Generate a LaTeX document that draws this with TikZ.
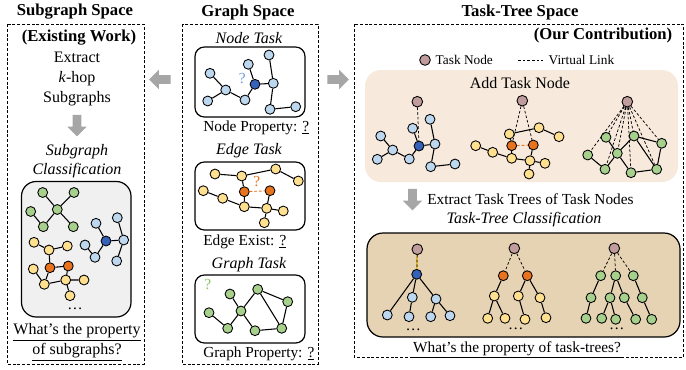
\documentclass[tikz,border=0pt]{standalone}
\usepackage{fontspec}
\setmainfont{Liberation Serif}
\usetikzlibrary{shapes.arrows}
\definecolor{nodeblue}{HTML}{BDD7EE}
\definecolor{deepblue}{HTML}{3562B8}
\definecolor{nodeyellow}{HTML}{FFE08F}
\definecolor{nodeorange}{HTML}{E8731F}
\definecolor{nodegreen}{HTML}{A8D08D}
\definecolor{nodetask}{HTML}{C09C9C}
\definecolor{peach}{HTML}{F7E9DC}
\definecolor{tan}{HTML}{E6D3B3}
\definecolor{arrowgray}{HTML}{A6A6A6}
\definecolor{linkgold}{HTML}{E2B000}
\definecolor{qgreen}{HTML}{8CC46C}
\definecolor{qblue}{HTML}{729FE0}
\begin{document}
\begin{tikzpicture}[x=0.75pt, y=-0.75pt,
    font=\fontsize{12}{15}\selectfont,
    panel/.style={draw, line width=0.6pt, dash pattern=on 2.2pt off 1.4pt},
    taskbox/.style={draw, line width=0.9pt, rounded corners=7pt, fill=white},
    vx/.style={circle, draw, line width=0.65pt, minimum size=7.4pt, inner sep=0pt},
    bn/.style={vx, fill=nodeblue}, dn/.style={vx, fill=deepblue},
    yn/.style={vx, fill=nodeyellow}, rn/.style={vx, fill=nodeorange},
    gn/.style={vx, fill=nodegreen}, tn/.style={vx, fill=nodetask, minimum size=8pt},
    edge/.style={line width=0.8pt},
    vlink/.style={line width=0.55pt, dash pattern=on 2pt off 1.5pt},
    garrow/.style={single arrow, fill=arrowgray, inner sep=3pt, minimum width=1pt,
      single arrow head extend=4pt, single arrow head indent=0pt, minimum height=16pt},
    hd/.style={font=\bfseries\fontsize{12.5}{15}\selectfont},
    it/.style={font=\itshape\fontsize{12}{14.5}\selectfont},
    sm/.style={font=\fontsize{11.5}{14}\selectfont}]
  \useasboundingbox (0,0) rectangle (686,369);
  % panels
  \draw[panel] (7,24) rectangle (144,364);
  \draw[panel] (182,24) rectangle (318,364);
  \draw[panel] (354,24) rectangle (683,357);
  \node[hd] (tsub) at (75,12) {Subgraph Space};
  \node[hd] (tgraph) at (248,12) {Graph Space};
  \node[hd] (ttree) at (520,12) {Task-Tree Space};
  \node[garrow, rotate=180] (aleft) at (162,79.5) {};
  \node[garrow] (aright) at (336,79.5) {};

  % subgraph space
  \node[hd] (exist) at (79,38) {(Existing Work)};
  \node[align=center] (khop) at (77,78.5) {Extract\\\textit{k}-hop\\Subgraphs};
  \node[garrow, rotate=-90] (adown) at (77,123.5) {};
  \node[it, align=center] (subcls) at (77,161) {Subgraph\\Classification};
  \draw[line width=0.9pt, rounded corners=11pt, fill=gray!12] (21.5,181.5) rectangle (131,317);
  \path (42.7,192.5) node[gn] (sg1) {} (74,192.5) node[gn] (sg2) {}
    (30.7,211.5) node[gn] (sg3) {} (57.3,209.5) node[gn] (sg4) {}
    (43.3,226.7) node[gn] (sg5) {} (73.3,226.7) node[gn] (sg6) {};
  \draw[edge] (sg1) -- (sg4) -- (sg2) (sg4) -- (sg5) -- (sg3) (sg4) -- (sg6);
  \path (96,223.3) node[bn] (sb1) {} (117.3,217.7) node[bn] (sb2) {}
    (106,241) node[dn] (sb3) {} (123.7,240) node[bn] (sb4) {}
    (85,245) node[bn] (sb5) {} (95,257.3) node[bn] (sb6) {} (116.7,261) node[bn] (sb7) {};
  \draw[edge] (sb1) -- (sb3) -- (sb4) -- (sb2) (sb4) -- (sb7) (sb3) -- (sb6) -- (sb5);
  \path (34,242.3) node[yn] (sy1) {} (49,250) node[yn] (sy2) {} (67.3,246) node[yn] (sy3) {}
    (50,267.7) node[rn] (sy4) {} (68.3,266) node[rn] (sy5) {} (33.3,269) node[yn] (sy6) {}
    (44.3,284.3) node[yn] (sy7) {} (65.7,280) node[yn] (sy8) {} (84,280) node[yn] (sy9) {}
    (70,295.7) node[yn] (sy10) {};
  \draw[edge] (sy1) -- (sy2) -- (sy3) (sy2) -- (sy4) -- (sy5) -- (sy8) (sy6) -- (sy7) -- (sy4)
    (sy7) -- (sy8) -- (sy9) (sy8) -- (sy10);
  \node[sm] (subdots) at (75,309) {\ldots};
  \node[align=center] (subq) at (77,342)
       {\underline{What’s the property}\\\underline{of subgraphs?}};

  % graph space: node task
  \node[it] (nodetitle) at (249,38) {Node Task};
  \draw[taskbox] (195,47) rectangle (305,117);
  \path (210,73.3) node[bn] (nt1) {} (225.7,90) node[bn] (nt2) {} (207.7,101) node[bn] (nt3) {}
    (245,100) node[bn] (nt4) {} (255,84.3) node[dn] (nt5) {} (248.3,64.3) node[bn] (nt6) {}
    (269,55) node[bn] (nt7) {} (273.3,83.3) node[bn] (nt8) {} (270,109.3) node[bn] (nt9) {}
    (295.7,106.7) node[bn] (nt10) {};
  \draw[edge] (nt1) -- (nt2) -- (nt3) (nt2) -- (nt4) -- (nt5) -- (nt6) (nt5) -- (nt8) -- (nt7)
    (nt8) -- (nt9) -- (nt10);
  \node[text=qblue, sm] (nodeq) at (242.3,79) {?};
  \node[sm, anchor=west, inner sep=0pt] (nodeprop) at (203,128) {Node Property: \underline{?}};
  % edge task
  \node[it] (edgetitle) at (249,151) {Edge Task};
  \draw[taskbox] (195,162) rectangle (305,230);
  \path (215,174) node[yn] (et1) {} (241.7,176) node[yn] (et2) {} (275.7,169) node[yn] (et3) {}
    (298.3,181) node[yn] (et4) {} (203.3,190.7) node[yn] (et5) {} (222.7,198.3) node[yn] (et6) {}
    (244.3,191.7) node[rn] (et7) {} (270,190.7) node[rn] (et8) {} (244.3,206.7) node[yn] (et9) {}
    (266.7,208.3) node[yn] (et10) {} (283.3,211) node[yn] (et11) {} (264.3,222.7) node[yn] (et12) {};
  \draw[edge] (et1) -- (et2) -- (et3) -- (et4) (et2) -- (et7) -- (et9) (et5) -- (et6) -- (et9)
    -- (et10) -- (et11) (et8) -- (et10) -- (et12);
  \draw[vlink, nodeorange, line width=0.7pt] (et7) -- (et8);
  \node[text=nodeorange, sm] (edgeq) at (256.7,181.5) {?};
  \node[sm, anchor=west, inner sep=0pt] (edgeprop) at (203,242) {Edge Exist: \underline{?}};
  % graph task
  \node[it] (graphtitle) at (249,265) {Graph Task};
  \draw[taskbox] (195,275) rectangle (305,343);
  \path (230,294) node[gn] (gt1) {} (257.7,289.3) node[gn] (gt2) {} (287.7,301.7) node[gn] (gt3) {}
    (209,312.7) node[gn] (gt4) {} (241,311) node[gn] (gt5) {} (227.7,328.3) node[gn] (gt6) {}
    (255,330.7) node[gn] (gt7) {} (281.7,328.3) node[gn] (gt8) {};
  \draw[edge] (gt1) -- (gt5) -- (gt2) -- (gt3) -- (gt8) -- (gt2) (gt4) -- (gt6) -- (gt5) -- (gt7)
    -- (gt8);
  \node[text=qgreen, sm] (graphq) at (207.7,285) {?};
  \node[sm, anchor=west, inner sep=0pt] (graphprop) at (203,354) {Graph Property: \underline{?}};

  % task-tree space
  \node[hd, anchor=east] (ours) at (677,35) {(Our Contribution)};
  \node[tn] (legtask) at (425,60) {};
  \node[font=\fontsize{10}{12}\selectfont, anchor=west] (legtasktxt) at (431,60) {Task Node};
  \coordinate (legl) at (518,60);
  \coordinate (legr) at (543,60);
  \draw[vlink] (legl) -- (legr);
  \node[font=\fontsize{10}{12}\selectfont, anchor=west] (leglinktxt) at (544,60) {Virtual Link};
  \fill[peach, rounded corners=12pt] (365,70) rectangle (678,182);
  \node (addtitle) at (520,83) {Add Task Node};
  % add task node: blue
  \path (417.3,101.7) node[tn] (abt) {} (412.7,128.3) node[bn] (ab1) {} (430,119.3) node[bn] (ab2) {}
    (380.7,136) node[bn] (ab3) {} (392.7,150) node[bn] (ab4) {} (377.3,159.3) node[bn] (ab5) {}
    (409.3,159) node[bn] (ab6) {} (419,146) node[dn] (ab7) {} (435,144) node[bn] (ab8) {}
    (430.7,166.7) node[bn] (ab9) {} (455,164) node[bn] (ab10) {};
  \draw[edge] (ab1) -- (ab7) -- (ab8) -- (ab2) (ab8) -- (ab9) -- (ab10) (ab7) -- (ab6) -- (ab4)
    -- (ab3) (ab4) -- (ab5);
  \draw[vlink] (abt) -- (ab7);
  % add task node: yellow
  \path (522.3,100.7) node[tn] (ayt) {} (509.3,134) node[yn] (ay1) {} (539,127.7) node[yn] (ay2) {}
    (559,136.7) node[yn] (ay3) {} (475.7,145.7) node[yn] (ay4) {} (492.7,152.3) node[yn] (ay5) {}
    (511.7,145.7) node[rn] (ay6) {} (533.3,145) node[rn] (ay7) {} (511.7,158.3) node[yn] (ay8) {}
    (530,160.7) node[yn] (ay9) {} (545,163.3) node[yn] (ay10) {} (529,174) node[yn] (ay11) {};
  \draw[edge] (ay1) -- (ay2) -- (ay3) (ay1) -- (ay6) -- (ay8) (ay4) -- (ay5) -- (ay8) -- (ay9)
    -- (ay10) (ay7) -- (ay9) -- (ay11);
  \draw[vlink] (ayt) -- (ay6) (ayt) -- (ay7);
  \draw[vlink, nodeorange, line width=0.7pt] (ay6) -- (ay7);
  % add task node: green
  \path (627.3,101.7) node[tn] (agt) {} (606,137.3) node[gn] (ag1) {} (634,136) node[gn] (ag2) {}
    (661.7,143.3) node[gn] (ag3) {} (587.7,155) node[gn] (ag4) {} (617.3,153.3) node[gn] (ag5) {}
    (605,169.3) node[gn] (ag6) {} (631,172.7) node[gn] (ag7) {} (656.7,169.3) node[gn] (ag8) {};
  \draw[edge] (ag1) -- (ag5) -- (ag2) -- (ag3) -- (ag8) -- (ag2) (ag4) -- (ag6) -- (ag5) -- (ag7)
    -- (ag8);
  \draw[vlink] (agt) -- (ag1) (agt) -- (ag2) (agt) -- (ag3) (agt) -- (ag4) (agt) -- (ag5)
    (agt) -- (ag6) (agt) -- (ag7) (agt) -- (ag8);

  \node[garrow, rotate=-90] (adown2) at (412.5,197.5) {};
  \node[sm, anchor=west, inner sep=0pt] (extract) at (427,199) {Extract Task Trees of Task Nodes};
  \node[it] (treecls) at (524,220) {Task-Tree Classification};
  \draw[line width=0.9pt, rounded corners=12pt, fill=tan] (367,233) rectangle (680,337);
  % task trees
  \path (417.3,249.3) node[tn] (tbt) {} (416.7,274.3) node[dn] (tb0) {}
    (412.3,297.3) node[bn] (tb1) {} (436,299) node[bn] (tb2) {} (387.3,315) node[bn] (tb3) {}
    (409,316.7) node[bn] (tb4) {} (430.7,316.7) node[bn] (tb5) {} (450,315.7) node[bn] (tb6) {};
  \draw[edge] (tb0) -- (tb3) (tb0) -- (tb1) -- (tb4) (tb0) -- (tb2) -- (tb5) (tb2) -- (tb6);
  \draw[line width=0.9pt, linkgold] (tbt) -- (tb0);
  \draw[vlink] (tbt) -- (tb0);
  \path (514.3,248.3) node[tn] (tyt) {} (503.3,275.7) node[rn] (ty1) {} (527.3,275.7) node[rn] (ty2) {}
    (494.3,296) node[yn] (ty3) {} (518.3,296) node[yn] (ty4) {} (540,297.7) node[yn] (ty5) {}
    (487.7,318.3) node[yn] (ty6) {} (505,318.3) node[yn] (ty7) {} (525,319.3) node[yn] (ty8) {}
    (546,317.7) node[yn] (ty9) {};
  \draw[edge] (ty1) -- (ty3) -- (ty6) (ty3) -- (ty7) (ty2) -- (ty4) -- (ty8) (ty2) -- (ty5) -- (ty9);
  \draw[vlink] (tyt) -- (ty1) (tyt) -- (ty2);
  \path (614.3,248.3) node[tn] (tgt) {} (600.7,275.7) node[gn] (tg1) {} (615.7,275.7) node[gn] (tg2) {}
    (633.3,275.7) node[gn] (tg3) {} (591,297.7) node[gn] (tg4) {} (610,297.7) node[gn] (tg5) {}
    (624.3,297.7) node[gn] (tg6) {} (642.3,297.7) node[gn] (tg7) {} (586,318.3) node[gn] (tg8) {}
    (601.7,318.3) node[gn] (tg9) {} (615.7,319.3) node[gn] (tg10) {} (635.7,319.3) node[gn] (tg11) {}
    (651.7,319.3) node[gn] (tg12) {};
  \draw[edge] (tg1) -- (tg4) -- (tg8) (tg2) -- (tg5) -- (tg9) (tg5) -- (tg10) (tg2) -- (tg6) -- (tg11)
    (tg3) -- (tg7) -- (tg12);
  \draw[vlink] (tgt) -- (tg1) (tgt) -- (tg2) (tgt) -- (tg3);
  \node[sm] (tbdots) at (413.3,330) {\ldots};
  \node[sm] (tydots) at (515.7,329) {\ldots};
  \node[sm] (tgdots) at (616.7,329) {\ldots};
  \node[sm] (treeq) at (517,350) {\underline{What’s the property of task-trees?}};
\end{tikzpicture}
\end{document}
